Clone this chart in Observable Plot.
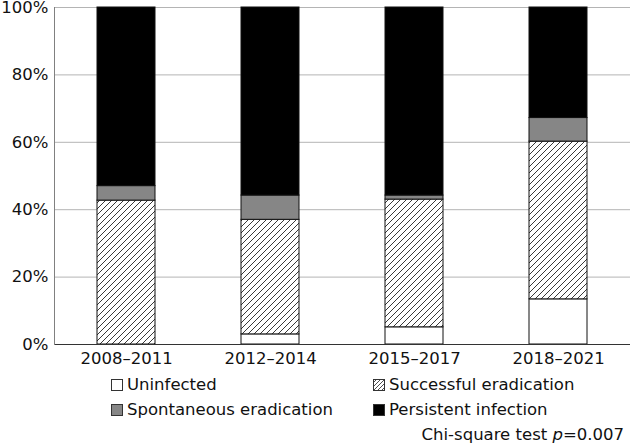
<!DOCTYPE html>
<html>
<head>
<meta charset="utf-8">
<script src="https://cdn.jsdelivr.net/npm/d3@7"></script>
<script src="https://cdn.jsdelivr.net/npm/@observablehq/plot@0.6"></script>
<style>
  body { margin: 0; background: white; font-family: "DejaVu Sans", Verdana, sans-serif; }
  #wrap { position: relative; width: 631px; height: 446px; }
  .leg { position: absolute; font-size: 16.5px; color: #111; white-space: nowrap; line-height: 20px; display: flex; align-items: center; }
  .sw { width: 10px; height: 10px; border: 1px solid #333; margin-right: 4px; box-sizing: content-box; }
  #cap { position: absolute; right: 7px; top: 425px; font-size: 16.5px; color: #111; line-height: 20px; white-space: nowrap; }
</style>
</head>
<body>
<div id="wrap"></div>
<script>
const periods = ["2008–2011", "2012–2014", "2015–2017", "2018–2021"];
const series = ["Uninfected", "Successful eradication", "Spontaneous eradication", "Persistent infection"];
const uninfected = [0, 3.0, 5.1, 13.4];
const successful = [42.7, 34.0, 37.9, 46.8];
const spontaneous = [4.3, 7.2, 1.2, 7.0];
const persistent = [53.0, 55.8, 55.8, 32.8];
const yTicks = [0, 20, 40, 60, 80, 100];
const fills = ["white", "url(#hatch)", "#868686", "black"];

const values = [uninfected, successful, spontaneous, persistent];
const data = periods.flatMap((p, i) => series.map((s, j) => ({period: p, series: s, value: values[j][i]})));

const chart = Plot.plot({
  width: 631,
  height: 370,
  marginLeft: 54,
  marginRight: 1,
  marginTop: 7,
  marginBottom: 26,
  style: {fontFamily: "DejaVu Sans, Verdana, sans-serif", fontSize: "16.5px", color: "#111", background: "white"},
  x: {domain: periods, paddingInner: 0.6, paddingOuter: 0.3, label: null, tickSize: 0, tickPadding: 7.5},
  y: {domain: [0, 100], ticks: yTicks, tickFormat: d => d + "%", label: null, tickSize: 0, tickPadding: 6},
  color: {domain: series, range: fills},
  marks: [
    Plot.gridY(yTicks, {stroke: "#b4b4b4", strokeOpacity: 1}),
    Plot.barY(data, {x: "period", y: "value", fill: "series", stroke: "#111", strokeWidth: 1}),
    Plot.ruleY([0], {stroke: "#333"}),
    Plot.frame({anchor: "left", stroke: "#808080"})
  ]
});

d3.select(chart).insert("defs", ":first-child").html(
  '<pattern id="hatch" patternUnits="userSpaceOnUse" width="6" height="6">' +
  '<rect width="6" height="6" fill="white"/>' +
  '<path d="M-1,1 l2,-2 M0,6 l6,-6 M5,7 l2,-2" stroke="#222" stroke-width="0.9"/>' +
  '</pattern>'
);

const wrap = document.getElementById("wrap");
wrap.appendChild(chart);

const legPos = [[111, 375], [373, 375], [111, 400], [373, 400]];
series.forEach((s, i) => {
  const item = document.createElement("div");
  item.className = "leg";
  item.style.left = legPos[i][0] + "px";
  item.style.top = legPos[i][1] + "px";
  let sw;
  if (i === 1) {
    sw = document.createElementNS("http://www.w3.org/2000/svg", "svg");
    sw.setAttribute("width", "12");
    sw.setAttribute("height", "12");
    sw.style.marginRight = "4px";
    sw.innerHTML = '<defs><pattern id="hatchL" patternUnits="userSpaceOnUse" width="4" height="4"><path d="M-1,1 l2,-2 M0,4 l4,-4 M3,5 l2,-2" stroke="#222" stroke-width="0.8"/></pattern></defs>' +
      '<rect x="0.5" y="0.5" width="11" height="11" fill="white" stroke="#333"/>' +
      '<rect x="0.5" y="0.5" width="11" height="11" fill="url(#hatchL)" stroke="#333"/>';
  } else {
    sw = document.createElement("div");
    sw.className = "sw";
    sw.style.background = fills[i];
  }
  item.appendChild(sw);
  const t = document.createElement("span");
  t.textContent = s;
  item.appendChild(t);
  wrap.appendChild(item);
});

const cap = document.createElement("div");
cap.id = "cap";
cap.innerHTML = 'Chi-square test <i>p</i>=0.007';
wrap.appendChild(cap);
</script>
</body>
</html>
